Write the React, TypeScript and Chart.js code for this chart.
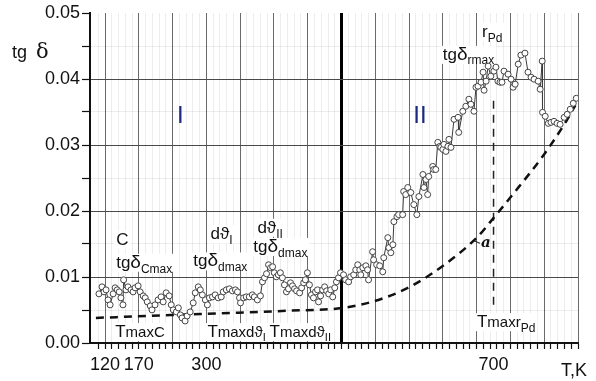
import React, { useEffect, useRef } from 'react';
import { Chart, registerables } from 'chart.js';

Chart.register(...registerables);

// x axis: one major grid cell = 10 units; tick labels (temperature, K) placed at these positions
const tickPositions = [0, 10, 30, 115];
const tickLabels = ['120', '170', '300', '700'];

// measured tg delta series
const tgX = [-1.8,-0.9,-0.3,0.3,0.9,1.5,2.4,3.0,3.6,4.2,4.7,5.3,5.5,6.2,6.8,7.7,8.3,8.9,9.8,10.4,11.3,11.9,12.5,13.4,13.9,14.8,15.7,16.6,17.2,18.1,19.0,19.6,20.2,21.1,21.7,22.3,22.8,23.7,24.3,25.2,26.1,26.7,27.6,28.2,28.8,29.7,30.3,30.9,31.8,32.6,33.5,34.4,35.0,35.9,36.8,37.7,38.6,39.2,39.8,40.1,41.0,41.8,42.7,43.6,44.2,45.1,46.0,46.6,47.2,47.8,48.4,49.0,49.6,50.1,50.7,51.3,51.9,52.5,53.1,53.7,54.3,54.9,55.5,56.1,56.7,57.6,58.2,58.8,59.3,59.9,60.5,61.1,61.7,62.3,62.9,63.2,63.8,64.4,65.0,65.6,66.2,66.8,67.4,68.0,68.5,69.1,69.7,70.6,71.2,72.1,72.7,73.6,74.2,74.8,75.4,75.7,76.3,77.2,77.7,78.0,79.2,79.5,80.4,81.3,82.2,82.5,83.7,84.0,84.6,85.2,85.5,86.4,86.9,88.1,88.4,89.0,89.6,90.5,91.4,92.3,92.9,94.1,94.4,95.0,95.5,95.8,97.0,97.3,97.9,98.5,99.1,99.4,100.0,100.3,100.9,101.5,101.8,102.4,103.3,104.5,104.7,105.9,106.8,107.7,108.3,109.2,109.8,110.4,111.3,111.9,112.2,112.8,113.4,114.2,115.1,115.7,116.3,116.9,117.5,118.1,119.3,120.2,120.8,121.4,122.3,123.1,124.3,125.2,126.1,127.0,128.2,128.8,129.4,129.5,130.3,131.2,132.0,132.9,133.8,134.7,135.9,136.8,137.7,138.6,139.5];
const tgY = [
  0.00745,0.00851,0.00775,0.00805,0.00653,0.00578,0.00745,0.00836,0.00805,0.00775,
  0.00684,0.00578,0.00957,0.00805,0.00851,0.00805,0.00775,0.00836,0.00866,0.00775,
  0.00714,0.00684,0.00623,0.00562,0.00502,0.00578,0.00653,0.00699,0.00623,0.00760,
  0.00714,0.00578,0.00502,0.00471,0.00532,0.00426,0.00380,0.00334,0.00410,0.00471,
  0.00608,0.00760,0.00851,0.00805,0.00729,0.00653,0.00578,0.00684,0.00699,0.00729,
  0.00684,0.00699,0.00775,0.00805,0.00821,0.00790,0.00805,0.00775,0.00684,0.00608,
  0.00684,0.00699,0.00699,0.00729,0.00699,0.00653,0.00714,0.00927,0.00988,0.01049,
  0.01185,0.01140,0.01155,0.01064,0.01003,0.01033,0.01064,0.00988,0.00881,0.00775,
  0.00821,0.00912,0.00866,0.00821,0.00790,0.00760,0.00836,0.00912,0.00957,0.01064,
  0.00881,0.00729,0.00684,0.00775,0.00805,0.00623,0.00714,0.00805,0.00851,0.00790,
  0.00745,0.00805,0.00699,0.00836,0.00927,0.00988,0.01064,0.01033,0.00957,0.00927,
  0.01003,0.01033,0.01109,0.01185,0.01109,0.01033,0.01140,0.01170,0.01109,0.00957,
  0.01383,0.01261,0.01185,0.01170,0.01079,0.01292,0.01596,0.01444,0.01368,0.01489,
  0.01839,0.01915,0.01945,0.01945,0.02295,0.02249,0.02356,0.02280,0.02097,0.01945,
  0.02219,0.02553,0.02356,0.02477,0.02249,0.02523,0.02675,0.02629,0.02629,0.03040,
  0.02979,0.02964,0.02933,0.03009,0.02903,0.02979,0.03085,0.02964,0.03389,0.03419,
  0.03191,0.03511,0.03587,0.03693,0.03617,0.03511,0.03875,0.03891,0.03951,0.04103,
  0.03830,0.03967,0.04195,0.04043,0.04119,0.04179,0.03967,0.03951,0.03951,0.04119,
  0.04073,0.03997,0.03875,0.03921,0.04225,0.04362,0.04392,0.04103,0.04027,0.03997,
  0.03967,0.03845,0.04271,0.03495,0.03435,0.03328,0.03343,0.03359,0.03328,0.03313,
  0.03419,0.03465,0.03541,0.03632,0.03708,
];

// background curve "a"
const curveX = [-2.7, 28.2, 54.9, 70.0, 80.1, 90.2, 100.3, 110.1, 115.1, 120.2, 130.0, 136.5, 139.2];
const curveY = [0.0038, 0.0044, 0.0049, 0.0053, 0.0064, 0.0085, 0.0118, 0.016, 0.019, 0.0222, 0.0286, 0.0336, 0.036];

// vertical dashed marker at T max r_Pd
const markerX = 115;
const markerY = [0.0058, 0.0372];

const FONT = '"Liberation Sans", "DejaVu Sans", Arial, sans-serif';

type Part = [string, number, number];
const annotations: { x: number; y: number; parts: Part[]; bg: boolean }[] = [
  { x: 3.3, y: 0.0149, parts: [['C', 17, 0]], bg: true },
  { x: 3.3, y: 0.0114, parts: [['tg', 17, 0], ['δ', 19, 0], ['Cmax', 12, 5]], bg: true },
  { x: 31.2, y: 0.0157, parts: [['dϑ', 17, 0], ['I', 12, 5]], bg: true },
  { x: 26.1, y: 0.0116, parts: [['tg', 17, 0], ['δ', 19, 0], ['dmax', 12, 5]], bg: true },
  { x: 45.1, y: 0.0167, parts: [['dϑ', 17, 0], ['II', 12, 5]], bg: true },
  { x: 43.9, y: 0.0138, parts: [['tg', 17, 0], ['δ', 19, 0], ['dmax', 12, 5]], bg: true },
  { x: 3.0, y: 0.0009, parts: [['T', 17, 0], ['maxC', 15, 0]], bg: true },
  { x: 30.3, y: 0.0009, parts: [['T', 17, 0], ['maxdϑ', 15, 0], ['I', 11, 4]], bg: true },
  { x: 48.7, y: 0.0009, parts: [['T', 17, 0], ['maxdϑ', 15, 0], ['II', 11, 4]], bg: true },
  { x: 110.1, y: 0.0024, parts: [['T', 17, 0], ['maxr', 15, 0], ['Pd', 12, 5]], bg: true },
  { x: 100.0, y: 0.0429, parts: [['tg', 17, 0], ['δ', 19, 0], ['rmax', 12, 4]], bg: true },
  { x: 111.6, y: 0.0464, parts: [['r', 17, 0], ['Pd', 12, 5]], bg: true },
];
const regionLabels = [
  { x: 22.3, y: 0.0343, text: 'I' },
  { x: 93.2, y: 0.0343, text: 'II' },
];

const isMultiple = (v: number, step: number) => Math.abs(v / step - Math.round(v / step)) < 1e-6;

const textPlugin = {
  id: 'texts',
  beforeDatasetsDraw(chart: any) {
    const ctx = chart.ctx;
    const xs = chart.scales.x;
    const ys = chart.scales.y;
    ctx.save();
    ctx.textBaseline = 'alphabetic';
    ctx.textAlign = 'left';
    for (const a of annotations) {
      const px = xs.getPixelForValue(a.x);
      const py = ys.getPixelForValue(a.y);
      let w = 0;
      const widths: number[] = [];
      for (const [t, s] of a.parts) {
        ctx.font = `${s}px ${FONT}`;
        const m = ctx.measureText(t).width;
        widths.push(m);
        w += m;
      }
      if (a.bg) {
        ctx.fillStyle = '#ffffff';
        ctx.fillRect(px - 2, py - 14, w + 4, 18);
      }
      ctx.fillStyle = '#111';
      let cx = px;
      a.parts.forEach(([t, s, dy], i) => {
        ctx.font = `${s}px ${FONT}`;
        ctx.fillText(t, cx, py + dy);
        cx += widths[i];
      });
    }
    ctx.font = `24px ${FONT}`;
    ctx.fillStyle = '#1c2a80';
    ctx.textAlign = 'center';
    ctx.textBaseline = 'middle';
    for (const r of regionLabels) {
      ctx.fillText(r.text, xs.getPixelForValue(r.x), ys.getPixelForValue(r.y));
    }
    // label "a" for the dashed curve with a short leader
    ctx.strokeStyle = '#111';
    ctx.lineWidth = 1;
    ctx.beginPath();
    ctx.moveTo(xs.getPixelForValue(109.2), ys.getPixelForValue(0.0155));
    ctx.lineTo(xs.getPixelForValue(111.0), ys.getPixelForValue(0.0151));
    ctx.stroke();
    ctx.textAlign = 'left';
    ctx.textBaseline = 'alphabetic';
    ctx.font = `italic bold 15px "DejaVu Serif", "Liberation Serif", serif`;
    ctx.fillStyle = '#111';
    ctx.fillText('a', xs.getPixelForValue(111.3), ys.getPixelForValue(0.0146));
    ctx.restore();
  },
  afterDraw(chart: any) {
    const ctx = chart.ctx;
    ctx.save();
    ctx.fillStyle = '#111';
    ctx.textAlign = 'left';
    ctx.textBaseline = 'alphabetic';
    ctx.font = `18px ${FONT}`;
    ctx.fillText('tg', 12, 58);
    ctx.font = `21px "DejaVu Serif", "Liberation Serif", serif`;
    ctx.fillText('δ', 36, 58);
    ctx.font = `18px ${FONT}`;
    ctx.fillText('T,K', 561, 376);
    ctx.restore();
  },
};

export default function App() {
  const ref = useRef<HTMLCanvasElement>(null);
  useEffect(() => {
    const canvas = ref.current;
    if (!canvas) return;
    const seriesPoints = tgX.map((x, i) => ({ x, y: tgY[i] }));
    const curvePoints = curveX.map((x, i) => ({ x, y: curveY[i] }));
    const markerPoints = markerY.map((y) => ({ x: markerX, y }));
    const chart = new Chart(canvas, {
      type: 'line',
      data: {
        datasets: [
          {
            data: seriesPoints,
            borderColor: '#3a3a3a',
            borderWidth: 1,
            pointRadius: 3,
            pointBorderWidth: 1,
            pointBorderColor: '#444',
            pointBackgroundColor: '#ffffff',
            tension: 0,
          },
          {
            data: curvePoints,
            borderColor: '#111',
            borderWidth: 2.5,
            borderDash: [8, 6],
            pointRadius: 0,
            tension: 0.4,
            cubicInterpolationMode: 'monotone',
          },
          {
            data: markerPoints,
            borderColor: '#222',
            borderWidth: 1.5,
            borderDash: [8, 6],
            pointRadius: 0,
          },
        ],
      },
      options: {
        animation: false,
        responsive: false,
        devicePixelRatio: 1,
        events: [],
        layout: { padding: { left: 0, right: 18, top: 13, bottom: 0 } },
        plugins: { legend: { display: false }, tooltip: { enabled: false } },
        scales: {
          x: {
            type: 'linear',
            min: -4.45,
            max: 140,
            afterBuildTicks: (s: any) => {
              const vals: number[] = [-2];
              for (let v = 0; v <= 140; v += 2) vals.push(v);
              vals.push(115);
              vals.sort((a, b) => a - b);
              s.ticks = vals.map((value) => ({ value }));
            },
            afterFit: (s: any) => {
              s.height = 38;
            },
            ticks: {
              autoSkip: false,
              maxRotation: 0,
              minRotation: 0,
              padding: 5,
              color: '#111',
              font: { family: FONT, size: 18 },
              callback: (value: any) => {
                const i = tickPositions.indexOf(Number(value));
                return i >= 0 ? tickLabels[i] : '';
              },
            },
            grid: {
              color: (c: any) => {
                const v = c.tick ? c.tick.value : 0;
                if (v === 115) return 'rgba(0,0,0,0)';
                if (v === 70) return '#000';
                if (isMultiple(v, 10)) return '#6a6a6a';
                return 'rgba(0,0,0,0.07)';
              },
              lineWidth: (c: any) => (c.tick && c.tick.value === 70 ? 3 : 1),
              tickColor: (c: any) => (c.tick && c.tick.value === 115 ? 'rgba(0,0,0,0)' : '#111'),
              tickWidth: 1.2,
              tickLength: 6,
            },
            border: { display: true, color: '#111', width: 2 },
          },
          y: {
            type: 'linear',
            min: 0,
            max: 0.05,
            afterBuildTicks: (s: any) => {
              const vals: number[] = [];
              for (let i = 0; i <= 10; i++) vals.push(i * 0.005);
              s.ticks = vals.map((value) => ({ value }));
            },
            afterFit: (s: any) => {
              s.width = 90;
            },
            ticks: {
              padding: 2,
              color: '#111',
              font: { family: FONT, size: 18 },
              callback: (value: any) => {
                const v = Number(value);
                return isMultiple(v, 0.01) ? v.toFixed(2) : '';
              },
            },
            grid: {
              color: (c: any) => {
                const v = c.tick ? c.tick.value : 0;
                if (v >= 0.0499) return 'rgba(0,0,0,0)';
                if (isMultiple(v, 0.01)) return '#4a4a4a';
                return 'rgba(0,0,0,0.07)';
              },
              tickColor: '#111',
              tickWidth: 1.2,
              tickLength: 8,
            },
            border: { display: true, color: '#111', width: 2 },
          },
        },
      } as any,
      plugins: [textPlugin],
    });
    return () => chart.destroy();
  }, []);
  return (
    <div style={{ position: 'fixed', left: 0, top: 0, width: 596, height: 381, background: '#fff' }}>
      <canvas ref={ref} width={596} height={381} style={{ display: 'block', width: 596, height: 381 }} />
    </div>
  );
}
